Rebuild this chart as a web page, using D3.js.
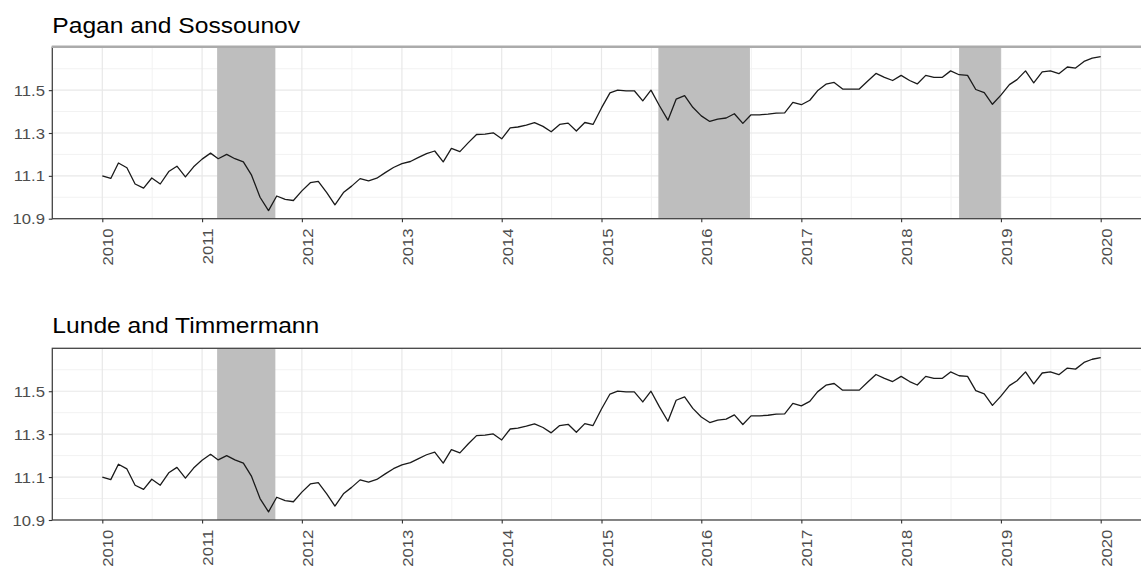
<!DOCTYPE html>
<html><head><meta charset="utf-8">
<script src="https://cdn.jsdelivr.net/npm/d3@7"></script>
<style>html,body{margin:0;padding:0;background:#fff;} svg{display:block;}</style>
</head><body>
<svg id="chart" width="1141" height="566"></svg>
<script>
// ---------------- data ----------------
const panelTitles = ["Pagan and Sossounov", "Lunde and Timmermann"];
const firstMonth = "2010-01-01";           // monthly series, Jan 2010 .. Jan 2020
const seriesValues = [
  11.100, 11.088, 11.160, 11.138, 11.062, 11.043, 11.090, 11.062, 11.120, 11.145, 11.095, 11.142,
  11.178, 11.206, 11.180, 11.200, 11.180, 11.165, 11.103, 11.000, 10.938, 11.006, 10.990, 10.985,
  11.030, 11.068, 11.074, 11.022, 10.965, 11.022, 11.052, 11.087, 11.077, 11.089, 11.115, 11.139,
  11.157, 11.167, 11.185, 11.204, 11.216, 11.165, 11.228, 11.213, 11.255, 11.293, 11.295, 11.301,
  11.273, 11.324, 11.328, 11.337, 11.348, 11.331, 11.306, 11.340, 11.346, 11.309, 11.349, 11.340,
  11.417, 11.487, 11.500, 11.497, 11.497, 11.450, 11.500, 11.427, 11.360, 11.458, 11.474, 11.420,
  11.380, 11.354, 11.365, 11.370, 11.390, 11.345, 11.385, 11.385, 11.388, 11.393, 11.394, 11.443,
  11.432, 11.453, 11.497, 11.528, 11.536, 11.505, 11.505, 11.505, 11.543, 11.578, 11.560, 11.545,
  11.569, 11.545, 11.529, 11.569, 11.560, 11.560, 11.590, 11.572, 11.569, 11.503, 11.488, 11.434,
  11.477, 11.526, 11.549, 11.590, 11.534, 11.585, 11.590, 11.577, 11.608, 11.603, 11.634, 11.649,
  11.657
];
const shadesPaganSossounov = [
  ["2011-02-25", "2011-09-26"],
  ["2015-07-28", "2016-06-27"],
  ["2018-08-01", "2019-01-01"]
];
const shadesLundeTimmermann = [
  ["2011-02-25", "2011-09-26"]
];
const xTickYears = [2010, 2011, 2012, 2013, 2014, 2015, 2016, 2017, 2018, 2019, 2020];
const yTickValues = [10.9, 11.1, 11.3, 11.5];
const yMinorValues = [11.0, 11.2, 11.4, 11.6];
const yDomain = [10.9, 11.7];

// ---------------- layout ----------------
const W = 1141, H = 566;
const panelLeft = 52.3, panelRight = 1151;
const panels = [
  { title: panelTitles[0], shades: shadesPaganSossounov, top: 47.3, bottom: 218.7, titleY: 32.7, lightTop: true },
  { title: panelTitles[1], shades: shadesLundeTimmermann, top: 348.3, bottom: 520, titleY: 333.3, lightTop: false }
];

const parse = d3.utcParse("%Y-%m-%d");
const start = parse(firstMonth);
const series = seriesValues.map((v, i) => ({ date: d3.utcMonth.offset(start, i), value: v }));

const x = d3.scaleUtc()
  .domain([new Date(Date.UTC(2010, 0, 1)), new Date(Date.UTC(2020, 0, 1))])
  .range([102.3, 1100.7]);

const yearDates = xTickYears.map(y => new Date(Date.UTC(y, 0, 1)));
const minorDates = [];
for (let i = 0; i < yearDates.length - 1; i++) {
  minorDates.push(new Date((+yearDates[i] + +yearDates[i + 1]) / 2));
}

const svg = d3.select("#chart");
svg.append("rect").attr("width", W).attr("height", H).attr("fill", "#fff");

const FONT = "'Liberation Sans', Arial, Helvetica, sans-serif";
const SX = 1.15;

panels.forEach((p, pi) => {
  const y = d3.scaleLinear().domain(yDomain).range([p.bottom, p.top]);
  const g = svg.append("g");

  const clipId = "clip" + pi;
  g.append("clipPath").attr("id", clipId)
    .append("rect").attr("x", panelLeft).attr("y", p.top)
    .attr("width", panelRight - panelLeft).attr("height", p.bottom - p.top);

  const inner = g.append("g").attr("clip-path", `url(#${clipId})`);

  // minor grid
  inner.selectAll(".vminor").data(minorDates).join("line")
    .attr("x1", d => x(d)).attr("x2", d => x(d))
    .attr("y1", p.top).attr("y2", p.bottom)
    .attr("stroke", "#f2f2f2").attr("stroke-width", 1);
  inner.selectAll(".hminor").data(yMinorValues).join("line")
    .attr("x1", panelLeft).attr("x2", panelRight)
    .attr("y1", d => y(d)).attr("y2", d => y(d))
    .attr("stroke", "#f2f2f2").attr("stroke-width", 1);
  // major grid
  inner.selectAll(".vmajor").data(yearDates).join("line")
    .attr("x1", d => x(d)).attr("x2", d => x(d))
    .attr("y1", p.top).attr("y2", p.bottom)
    .attr("stroke", "#e8e8e8").attr("stroke-width", 1.2);
  inner.selectAll(".hmajor").data(yTickValues).join("line")
    .attr("x1", panelLeft).attr("x2", panelRight)
    .attr("y1", d => y(d)).attr("y2", d => y(d))
    .attr("stroke", "#e8e8e8").attr("stroke-width", 1.2);

  // shaded periods
  inner.selectAll(".shade").data(p.shades).join("rect")
    .attr("x", d => x(parse(d[0])))
    .attr("width", d => x(parse(d[1])) - x(parse(d[0])))
    .attr("y", p.top).attr("height", p.bottom - p.top)
    .attr("fill", "#bebebe");

  // line
  const line = d3.line().x(d => x(d.date)).y(d => y(d.value));
  inner.append("path").datum(series)
    .attr("d", line)
    .attr("fill", "none").attr("stroke", "#1a1a1a").attr("stroke-width", 1.3)
    .attr("stroke-linejoin", "round");

  // border
  g.append("rect").attr("x", panelLeft).attr("y", p.top)
    .attr("width", panelRight - panelLeft).attr("height", p.bottom - p.top)
    .attr("fill", "none").attr("stroke", "#444").attr("stroke-width", 1.3);
  if (p.lightTop) {
    g.append("line").attr("x1", panelLeft - 0.6).attr("x2", panelRight)
      .attr("y1", p.top - 0.6).attr("y2", p.top - 0.6)
      .attr("stroke", "#ababab").attr("stroke-width", 2.6);
  }

  // x axis
  const xAxis = d3.axisBottom(x).tickValues(yearDates).tickFormat(d3.utcFormat("%Y"))
    .tickSize(3.5).tickPadding(0);
  const gx = g.append("g").attr("transform", `translate(0,${p.bottom})`).call(xAxis);
  gx.select(".domain").remove();
  gx.selectAll(".tick line").attr("stroke", "#333").attr("stroke-width", 1.1);
  gx.selectAll(".tick text")
    .attr("x", null).attr("y", null).attr("dy", null)
    .attr("transform", "translate(10.5,9.8) rotate(-90) scale(" + SX + ",1)")
    .attr("text-anchor", "end")
    .attr("fill", "#4d4d4d")
    .style("font-family", FONT).style("font-size", "14.5px");

  // y axis
  const yAxis = d3.axisLeft(y).tickValues(yTickValues).tickFormat(d3.format(".1f"))
    .tickSize(3.5).tickPadding(0);
  const gy = g.append("g").attr("transform", `translate(${panelLeft},0)`).call(yAxis);
  gy.select(".domain").remove();
  gy.selectAll(".tick line").attr("stroke", "#333").attr("stroke-width", 1.1);
  gy.selectAll(".tick text")
    .attr("x", null).attr("dy", null)
    .attr("transform", "translate(-7.3,5) scale(" + SX + ",1)")
    .attr("text-anchor", "end")
    .attr("fill", "#4d4d4d")
    .style("font-family", FONT).style("font-size", "14.5px");

  // title
  g.append("text")
    .attr("transform", `translate(${panelLeft},${p.titleY}) scale(1.12,1)`)
    .attr("fill", "#000")
    .style("font-family", FONT).style("font-size", "22px")
    .text(p.title);
});
</script>
</body></html>
